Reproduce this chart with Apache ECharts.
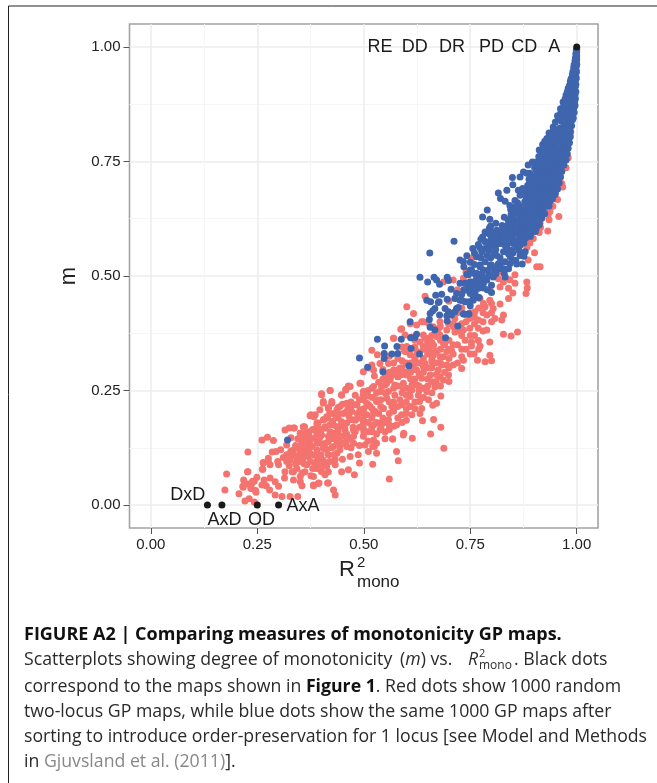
<!DOCTYPE html>
<html><head><meta charset="utf-8">
<style>html,body{margin:0;padding:0;background:#fff}#c{width:657px;height:783px}</style>
<script src="https://cdn.jsdelivr.net/npm/echarts@6/dist/echarts.min.js"></script>
</head><body><div id="c"></div>
<script>
const majorTicks=[0,0.25,0.5,0.75,1];
const minorTicks=[0.125,0.375,0.625,0.875];
const blackDots=[[0.133,0],[0.167,0],[0.25,0],[0.30,0],[1,1]];
const pointLabels=[["RE",0.538,1],["DD",0.62,1],["DR",0.707,1],["PD",0.80,1],["CD",0.877,1],["A",0.947,1],["DxD",0.087,0.022],["AxD",0.173,-0.032],["OD",0.26,-0.032],["AxA",0.3575,-0.003]];
const redLower=[[0.178,0.068],[0.174,0.033],[0.207,0.025],[0.218,0.055],[0.217,0.039],[0.228,0.073],[0.228,0.116],[0.221,0.009],[0.231,0.014],[0.243,0.007],[0.237,0.047],[0.243,0.052],[0.249,0.061],[0.236,0.036],[0.247,0.028],[0.262,0.078],[0.264,0.092],[0.276,0.095],[0.261,0.142],[0.274,0.148],[0.288,0.141],[0.285,0.116],[0.294,0.117],[0.305,0.121],[0.319,0.131],[0.325,0.168],[0.315,0.164],[0.337,0.168],[0.361,0.171],[0.372,0.160],[0.362,0.157],[0.351,0.157],[0.376,0.197],[0.386,0.197],[0.390,0.179],[0.405,0.222],[0.425,0.222],[0.417,0.211],[0.415,0.190],[0.437,0.208],[0.409,0.168],[0.401,0.153],[0.421,0.160],[0.437,0.171],[0.374,0.142],[0.354,0.135],[0.393,0.142],[0.417,0.139],[0.437,0.139],[0.335,0.120],[0.347,0.124],[0.362,0.117],[0.378,0.128],[0.390,0.120],[0.405,0.124],[0.319,0.110],[0.335,0.110],[0.351,0.113],[0.343,0.099],[0.358,0.102],[0.370,0.106],[0.397,0.106],[0.417,0.110],[0.437,0.113],[0.319,0.095],[0.327,0.099],[0.366,0.088],[0.393,0.099],[0.276,0.102],[0.264,0.093],[0.298,0.095],[0.280,0.088],[0.263,0.078],[0.300,0.088],[0.227,0.073],[0.216,0.041],[0.239,0.052],[0.229,0.046],[0.235,0.037],[0.246,0.032],[0.266,0.055],[0.280,0.059],[0.292,0.051],[0.261,0.044],[0.271,0.042],[0.279,0.033],[0.300,0.041],[0.292,0.022],[0.308,0.019],[0.327,0.019],[0.345,0.019],[0.315,0.073],[0.314,0.059],[0.335,0.073],[0.343,0.080],[0.355,0.070],[0.335,0.055],[0.351,0.051],[0.355,0.042],[0.376,0.064],[0.388,0.080],[0.401,0.073],[0.409,0.066],[0.417,0.073],[0.433,0.088],[0.382,0.044],[0.395,0.048],[0.415,0.048],[0.429,0.033],[0.433,0.022],[0.409,0.088],[0.386,0.091],[0.329,0.118],[0.341,0.107],[0.325,0.086],[0.311,0.104],[0.356,0.128],[0.368,0.122],[0.345,0.145],[0.329,0.147],[0.384,0.109],[0.405,0.098],[0.425,0.125],[0.443,0.148],[0.406,0.186],[0.427,0.183],[0.398,0.135],[0.386,0.165]];
const redMiddle=[[0.358,0.171],[0.374,0.195],[0.383,0.193],[0.401,0.243],[0.421,0.250],[0.405,0.226],[0.425,0.226],[0.448,0.240],[0.458,0.253],[0.468,0.259],[0.397,0.208],[0.417,0.213],[0.440,0.213],[0.460,0.222],[0.480,0.219],[0.493,0.266],[0.499,0.248],[0.499,0.230],[0.519,0.255],[0.538,0.248],[0.550,0.262],[0.393,0.179],[0.413,0.193],[0.433,0.197],[0.452,0.200],[0.472,0.204],[0.491,0.208],[0.511,0.219],[0.530,0.226],[0.554,0.233],[0.573,0.240],[0.593,0.255],[0.613,0.262],[0.570,0.255],[0.558,0.248],[0.585,0.230],[0.609,0.237],[0.628,0.240],[0.648,0.248],[0.667,0.258],[0.687,0.273],[0.370,0.153],[0.390,0.157],[0.409,0.171],[0.429,0.175],[0.448,0.182],[0.468,0.186],[0.487,0.190],[0.507,0.197],[0.527,0.204],[0.546,0.211],[0.566,0.215],[0.589,0.219],[0.609,0.215],[0.631,0.226],[0.652,0.230],[0.671,0.222],[0.681,0.238],[0.636,0.211],[0.662,0.218],[0.613,0.197],[0.589,0.197],[0.577,0.175],[0.638,0.184],[0.664,0.187],[0.657,0.155],[0.681,0.170],[0.632,0.200],[0.593,0.153],[0.594,0.157],[0.614,0.146],[0.568,0.144],[0.538,0.164],[0.519,0.171],[0.499,0.168],[0.476,0.164],[0.456,0.164],[0.437,0.153],[0.417,0.150],[0.397,0.148],[0.378,0.146],[0.360,0.153],[0.444,0.131],[0.468,0.146],[0.409,0.124],[0.503,0.131],[0.521,0.128],[0.688,0.124],[0.538,0.179],[0.558,0.186],[0.519,0.190],[0.499,0.186],[0.499,0.291],[0.511,0.299],[0.523,0.295],[0.519,0.338],[0.532,0.328],[0.538,0.309],[0.558,0.309],[0.570,0.364],[0.587,0.384],[0.595,0.339],[0.609,0.328],[0.620,0.313],[0.570,0.295],[0.585,0.299],[0.601,0.284],[0.624,0.295],[0.644,0.309],[0.660,0.317],[0.679,0.324],[0.695,0.335],[0.687,0.353],[0.664,0.349],[0.652,0.339],[0.640,0.371],[0.644,0.364],[0.671,0.368],[0.636,0.400],[0.652,0.397],[0.562,0.277],[0.581,0.280],[0.616,0.273],[0.636,0.277],[0.656,0.284],[0.675,0.295],[0.695,0.306],[0.554,0.266],[0.573,0.262],[0.593,0.266],[0.613,0.251],[0.660,0.269],[0.679,0.280],[0.699,0.284],[0.480,0.240],[0.510,0.238],[0.535,0.268],[0.525,0.282],[0.545,0.296],[0.600,0.310],[0.625,0.335],[0.650,0.300],[0.668,0.335],[0.625,0.262],[0.600,0.240],[0.545,0.190],[0.570,0.205],[0.590,0.180],[0.560,0.165],[0.470,0.225],[0.450,0.220],[0.515,0.215],[0.490,0.170],[0.530,0.180],[0.610,0.290],[0.590,0.315],[0.560,0.325],[0.640,0.255]];
const redFill=[[0.448,0.073],[0.464,0.077],[0.478,0.066],[0.490,0.092],[0.487,0.110],[0.468,0.106],[0.511,0.117],[0.530,0.113],[0.521,0.089],[0.525,0.128],[0.560,0.057],[0.568,0.144],[0.577,0.117],[0.581,0.097],[0.444,0.121],[0.460,0.128],[0.476,0.135],[0.429,0.128],[0.413,0.121],[0.390,0.095],[0.398,0.077],[0.413,0.084],[0.433,0.100],[0.382,0.0625],[0.393,0.047],[0.417,0.048],[0.382,0.042],[0.362,0.073],[0.351,0.0625],[0.332,0.073],[0.327,0.113],[0.343,0.106],[0.358,0.106],[0.374,0.113],[0.401,0.241],[0.421,0.25],[0.448,0.241],[0.458,0.251],[0.464,0.260],[0.491,0.266],[0.519,0.306],[0.570,0.364],[0.429,0.20],[0.444,0.215],[0.464,0.211],[0.484,0.219],[0.507,0.222],[0.530,0.23],[0.554,0.233],[0.499,0.24],[0.523,0.259],[0.542,0.259],[0.562,0.273],[0.499,0.2],[0.523,0.2],[0.546,0.211],[0.570,0.208],[0.476,0.186],[0.499,0.179],[0.523,0.175],[0.546,0.179],[0.570,0.172],[0.444,0.172],[0.460,0.179],[0.405,0.186],[0.390,0.172],[0.429,0.157],[0.452,0.15],[0.476,0.15],[0.499,0.15],[0.523,0.142],[0.390,0.15],[0.374,0.142],[0.351,0.157],[0.335,0.168],[0.60,0.255],[0.62,0.275],[0.58,0.32],[0.60,0.335],[0.64,0.29],[0.66,0.30],[0.62,0.32],[0.65,0.33],[0.68,0.31],[0.70,0.32],[0.72,0.35],[0.74,0.34],[0.70,0.36],[0.72,0.38],[0.74,0.40],[0.68,0.39],[0.66,0.37],[0.72,0.42],[0.76,0.41],[0.78,0.42],[0.78,0.38],[0.80,0.40],[0.76,0.37],[0.63,0.26],[0.61,0.31],[0.59,0.345],[0.65,0.355],[0.67,0.27],[0.70,0.30],[0.72,0.31],[0.70,0.27],[0.54,0.23],[0.58,0.26],[0.60,0.225],[0.52,0.235],[0.56,0.20],[0.62,0.21],[0.64,0.235],[0.66,0.245],[0.68,0.26],[0.545,0.275],[0.58,0.295],[0.535,0.20],[0.51,0.18],[0.485,0.20],[0.465,0.195],[0.44,0.19],[0.455,0.17],[0.475,0.17],[0.51,0.16],[0.53,0.155],[0.55,0.16],[0.46,0.14]];
const redFill2=[[0.34,0.09],[0.35,0.095],[0.36,0.09],[0.375,0.095],[0.38,0.08],[0.40,0.085],[0.42,0.095],[0.43,0.11],[0.45,0.10],[0.40,0.11],[0.41,0.135],[0.43,0.145],[0.45,0.135],[0.47,0.125],[0.49,0.13],[0.51,0.14],[0.53,0.135],[0.55,0.145],[0.39,0.135],[0.37,0.135],[0.35,0.125],[0.34,0.13],[0.36,0.145],[0.38,0.165],[0.40,0.165],[0.42,0.175],[0.44,0.16],[0.46,0.155],[0.48,0.16],[0.50,0.16],[0.52,0.16],[0.54,0.17],[0.56,0.175],[0.58,0.19],[0.60,0.20],[0.62,0.225],[0.60,0.185],[0.42,0.20],[0.44,0.20],[0.46,0.205],[0.48,0.185],[0.50,0.21],[0.52,0.21],[0.54,0.215],[0.56,0.225],[0.58,0.215],[0.60,0.21],[0.47,0.215],[0.49,0.23],[0.51,0.25],[0.53,0.245],[0.55,0.245],[0.57,0.225],[0.59,0.245],[0.61,0.25],[0.63,0.25],[0.65,0.26],[0.67,0.285],[0.55,0.28],[0.57,0.285],[0.59,0.285],[0.61,0.275],[0.63,0.285],[0.65,0.275],[0.67,0.31],[0.69,0.29],[0.71,0.33],[0.69,0.35],[0.71,0.35],[0.73,0.37],[0.71,0.39],[0.75,0.37],[0.73,0.34],[0.75,0.33],[0.77,0.34],[0.63,0.31],[0.66,0.325],[0.68,0.34],[0.70,0.34],[0.60,0.29],[0.58,0.28],[0.57,0.31],[0.59,0.30],[0.61,0.30],[0.56,0.29],[0.64,0.34],[0.62,0.345],[0.62,0.36],[0.66,0.355],[0.68,0.36],[0.78,0.40],[0.80,0.42],[0.77,0.43],[0.75,0.42]];
const redUpper=[[0.601,0.433],[0.617,0.418],[0.644,0.456],[0.589,0.385],[0.640,0.400],[0.687,0.487],[0.710,0.491],[0.734,0.495],[0.753,0.538],[0.901,0.551],[0.886,0.535],[0.906,0.520],[0.914,0.520],[0.855,0.503],[0.843,0.492],[0.883,0.487],[0.884,0.474],[0.881,0.462],[0.840,0.473],[0.850,0.463],[0.840,0.451],[0.820,0.476],[0.796,0.447],[0.820,0.439],[0.773,0.451],[0.785,0.433],[0.804,0.429],[0.828,0.415],[0.808,0.407],[0.824,0.404],[0.789,0.415],[0.769,0.404],[0.749,0.407],[0.730,0.396],[0.710,0.396],[0.789,0.382],[0.828,0.373],[0.846,0.369],[0.861,0.378],[0.769,0.386],[0.749,0.386],[0.734,0.382],[0.714,0.378],[0.695,0.382],[0.679,0.371],[0.675,0.385],[0.738,0.360],[0.753,0.356],[0.769,0.359],[0.753,0.347],[0.773,0.347],[0.796,0.356],[0.759,0.330],[0.767,0.316],[0.796,0.327],[0.785,0.313],[0.800,0.315],[0.730,0.324],[0.734,0.316],[0.706,0.338],[0.687,0.324],[0.671,0.335],[0.656,0.346],[0.640,0.346],[0.601,0.346],[0.632,0.356],[0.612,0.367],[0.597,0.371],[0.597,0.335],[0.620,0.324],[0.640,0.320],[0.660,0.313],[0.683,0.306],[0.710,0.306],[0.730,0.298],[0.656,0.331],[0.617,0.305],[0.640,0.302],[0.663,0.327],[0.742,0.415],[0.761,0.422],[0.781,0.440],[0.800,0.440],[0.679,0.400],[0.699,0.396],[0.714,0.407],[0.609,0.396],[0.624,0.393],[0.663,0.389],[0.796,0.469],[0.816,0.494],[0.855,0.484],[0.828,0.487],[0.980,0.758],[0.975,0.736],[0.965,0.702],[0.967,0.694],[0.955,0.667],[0.944,0.652],[0.937,0.641],[0.958,0.630],[0.933,0.634],[0.935,0.623],[0.932,0.598],[0.915,0.606],[0.912,0.595],[0.898,0.582],[0.890,0.572],[0.883,0.562],[0.986,0.814],[0.914,0.615],[0.820,0.509],[0.759,0.542],[0.740,0.509],[0.720,0.470],[0.700,0.445],[0.730,0.430],[0.760,0.395],[0.700,0.420],[0.655,0.365]];
const blueOutliers=[[0.321,0.142],[0.490,0.321],[0.509,0.301],[0.545,0.291],[0.532,0.362],[0.549,0.347],[0.548,0.331],[0.548,0.320],[0.566,0.330],[0.580,0.331],[0.578,0.346],[0.611,0.342],[0.606,0.304],[0.631,0.330],[0.588,0.362],[0.610,0.365],[0.620,0.366],[0.624,0.373],[0.609,0.400],[0.656,0.388],[0.667,0.382],[0.692,0.365],[0.632,0.497],[0.650,0.487],[0.665,0.497],[0.671,0.491],[0.678,0.482],[0.696,0.497],[0.699,0.490],[0.705,0.471],[0.669,0.458],[0.683,0.460],[0.648,0.447],[0.657,0.444],[0.677,0.444],[0.696,0.449],[0.718,0.462],[0.714,0.451],[0.726,0.447],[0.738,0.444],[0.675,0.442],[0.691,0.429],[0.667,0.429],[0.718,0.429],[0.714,0.422],[0.699,0.422],[0.662,0.424],[0.656,0.418],[0.678,0.415],[0.654,0.405],[0.695,0.413],[0.706,0.415],[0.696,0.402],[0.736,0.417],[0.747,0.417],[0.721,0.391],[0.655,0.550],[0.712,0.576],[0.779,0.629],[0.790,0.644],[0.796,0.624],[0.798,0.609],[0.836,0.687],[0.816,0.681],[0.821,0.669],[0.832,0.663],[0.843,0.654],[0.855,0.665],[0.849,0.715],[0.850,0.699],[0.867,0.716],[0.863,0.687],[0.873,0.691],[0.867,0.676],[0.879,0.681],[0.875,0.727],[0.883,0.724],[0.886,0.742],[0.896,0.749],[0.840,0.622],[0.851,0.629]];
const blueCluster=[[0.753,0.476],[0.754,0.487],[0.765,0.484],[0.746,0.469],[0.757,0.473],[0.769,0.473],[0.750,0.462],[0.761,0.462],[0.781,0.484],[0.789,0.491],[0.777,0.502],[0.781,0.513],[0.793,0.502],[0.804,0.498],[0.812,0.513],[0.828,0.516],[0.773,0.524],[0.797,0.524],[0.820,0.527],[0.843,0.527],[0.859,0.526],[0.872,0.526],[0.840,0.516],[0.750,0.513],[0.765,0.506],[0.757,0.447],[0.769,0.453],[0.800,0.464],[0.832,0.498],[0.726,0.484],[0.742,0.504],[0.726,0.535],[0.734,0.531],[0.742,0.544],[0.756,0.560],[0.769,0.569],[0.785,0.575],[0.765,0.542],[0.777,0.553],[0.793,0.556],[0.808,0.564],[0.820,0.571],[0.836,0.567],[0.855,0.569],[0.871,0.575],[0.879,0.553],[0.867,0.545],[0.876,0.543],[0.857,0.534],[0.844,0.542],[0.832,0.531],[0.816,0.527],[0.800,0.524],[0.785,0.531],[0.773,0.520],[0.761,0.505],[0.753,0.513],[0.746,0.503],[0.777,0.505],[0.793,0.513],[0.808,0.513],[0.824,0.516],[0.781,0.495],[0.796,0.502],[0.765,0.495],[0.749,0.487],[0.738,0.484],[0.769,0.476],[0.742,0.469],[0.761,0.465],[0.781,0.474],[0.771,0.453],[0.757,0.451],[0.746,0.444],[0.730,0.447],[0.722,0.431],[0.734,0.417],[0.746,0.417],[0.779,0.585],[0.785,0.596],[0.793,0.593],[0.812,0.600],[0.820,0.589],[0.804,0.582],[0.789,0.574],[0.816,0.571],[0.836,0.585],[0.851,0.571],[0.832,0.567],[0.867,0.567],[0.812,0.545],[0.828,0.553],[0.846,0.556],[0.798,0.540],[0.735,0.52],[0.75,0.53],[0.76,0.55],[0.775,0.54],[0.79,0.545],[0.805,0.55],[0.82,0.54],[0.835,0.56],[0.85,0.55],[0.865,0.555],[0.785,0.56],[0.80,0.57],[0.81,0.505],[0.80,0.48],[0.77,0.49],[0.76,0.525],[0.85,0.535],[0.83,0.505],[0.815,0.52],[0.79,0.47],[0.745,0.48],[0.735,0.47],[0.73,0.46],[0.75,0.435],[0.905,0.605],[0.912,0.612],[0.918,0.626],[0.925,0.636],[0.772,0.562],[0.795,0.565],[0.81,0.558],[0.825,0.578],[0.84,0.548],[0.86,0.562],[0.775,0.58],[0.795,0.605],[0.81,0.615],[0.825,0.61],[0.83,0.628],[0.845,0.645],[0.858,0.652]];
const blueBand=[[0.802,0.571],[0.815,0.574],[0.831,0.569],[0.846,0.573],[0.861,0.570],[0.876,0.572],[0.799,0.585],[0.818,0.583],[0.834,0.586],[0.849,0.582],[0.866,0.585],[0.880,0.583],[0.891,0.586],[0.803,0.596],[0.821,0.598],[0.836,0.594],[0.851,0.597],[0.864,0.595],[0.881,0.598],[0.893,0.594],[0.903,0.597],[0.836,0.609],[0.851,0.611],[0.866,0.607],[0.880,0.610],[0.895,0.608],[0.908,0.611],[0.839,0.622],[0.855,0.620],[0.870,0.623],[0.884,0.621],[0.899,0.624],[0.914,0.628],[0.846,0.634],[0.862,0.637],[0.878,0.633],[0.893,0.636],[0.908,0.634],[0.922,0.640],[0.856,0.647],[0.871,0.645],[0.885,0.648],[0.900,0.646],[0.915,0.649],[0.928,0.652],[0.861,0.660],[0.878,0.662],[0.893,0.658],[0.908,0.661],[0.923,0.659],[0.938,0.664],[0.881,0.673],[0.895,0.671],[0.910,0.675],[0.925,0.672],[0.940,0.674],[0.949,0.678],[0.886,0.686],[0.901,0.688],[0.915,0.684],[0.930,0.687],[0.945,0.685],[0.955,0.690],[0.885,0.698],[0.900,0.700],[0.917,0.696],[0.932,0.699],[0.947,0.697],[0.959,0.703],[0.888,0.711],[0.905,0.709],[0.920,0.712],[0.935,0.710],[0.950,0.713],[0.962,0.716],[0.890,0.724],[0.908,0.726],[0.923,0.722],[0.938,0.725],[0.953,0.723],[0.965,0.728],[0.901,0.737],[0.915,0.735],[0.930,0.739],[0.945,0.736],[0.960,0.738],[0.970,0.742],[0.905,0.749],[0.920,0.751],[0.935,0.747],[0.950,0.750],[0.965,0.748],[0.975,0.753],[0.911,0.761],[0.925,0.759],[0.940,0.763],[0.955,0.760],[0.970,0.762],[0.978,0.766],[0.912,0.775],[0.930,0.773],[0.945,0.777],[0.960,0.774],[0.972,0.776],[0.980,0.779],[0.920,0.787],[0.935,0.789],[0.950,0.785],[0.965,0.788],[0.976,0.786],[0.983,0.791],[0.930,0.800],[0.945,0.798],[0.960,0.802],[0.970,0.799],[0.980,0.801],[0.985,0.804],[0.935,0.812],[0.950,0.814],[0.965,0.810],[0.975,0.813],[0.985,0.816],[0.945,0.825],[0.960,0.823],[0.970,0.827],[0.980,0.824],[0.988,0.828],[0.950,0.836],[0.965,0.838],[0.975,0.834],[0.985,0.837],[0.990,0.841],[0.955,0.850],[0.970,0.848],[0.980,0.852],[0.990,0.850],[0.962,0.865],[0.975,0.863],[0.985,0.867],[0.993,0.866],[0.968,0.880],[0.980,0.878],[0.990,0.882],[0.995,0.880],[0.975,0.895],[0.985,0.893],[0.993,0.897],[0.996,0.895],[0.980,0.910],[0.990,0.908],[0.996,0.912],[0.985,0.925],[0.993,0.923],[0.997,0.927],[0.990,0.940],[0.996,0.938],[0.998,0.942],[0.993,0.955],[0.997,0.953],[0.999,0.957],[0.996,0.970],[0.998,0.968],[1,0.972],[0.998,0.985],[0.999,0.983],[1,0.990],[0.999,0.932],[0.998,0.918],[0.999,0.948],[1,0.962],[0.808,0.578],[0.824,0.591],[0.842,0.603],[0.858,0.616],[0.874,0.629],[0.887,0.642],[0.901,0.654],[0.916,0.667],[0.901,0.680],[0.922,0.693],[0.938,0.705],[0.912,0.718],[0.930,0.731],[0.952,0.743],[0.928,0.755],[0.948,0.768],[0.965,0.780],[0.942,0.794],[0.958,0.806],[0.974,0.819],[0.962,0.843],[0.976,0.858],[0.974,0.872],[0.986,0.887]];
const blueFill=[[0.81,0.578],[0.84,0.578],[0.855,0.577],[0.87,0.579],[0.81,0.59],[0.83,0.591],[0.845,0.59],[0.86,0.592],[0.875,0.59],[0.887,0.591],[0.83,0.603],[0.845,0.604],[0.858,0.602],[0.873,0.603],[0.888,0.604],[0.90,0.602],[0.845,0.616],[0.86,0.615],[0.873,0.617],[0.888,0.615],[0.903,0.617],[0.912,0.618],[0.85,0.628],[0.867,0.629],[0.88,0.627],[0.895,0.629],[0.91,0.628],[0.86,0.641],[0.875,0.64],[0.89,0.642],[0.905,0.64],[0.918,0.642],[0.865,0.654],[0.88,0.653],[0.895,0.655],[0.91,0.654],[0.925,0.655],[0.935,0.653],[0.885,0.667],[0.90,0.666],[0.915,0.668],[0.93,0.666],[0.943,0.668],[0.892,0.68],[0.907,0.679],[0.922,0.681],[0.937,0.68],[0.95,0.681],[0.892,0.692],[0.908,0.693],[0.925,0.691],[0.94,0.693],[0.952,0.692],[0.895,0.705],[0.913,0.704],[0.928,0.706],[0.943,0.705],[0.955,0.706],[0.898,0.718],[0.915,0.717],[0.93,0.719],[0.945,0.718],[0.958,0.719],[0.905,0.731],[0.92,0.73],[0.935,0.732],[0.95,0.731],[0.963,0.732],[0.91,0.743],[0.925,0.742],[0.94,0.744],[0.955,0.743],[0.967,0.744],[0.915,0.755],[0.93,0.754],[0.945,0.756],[0.96,0.755],[0.972,0.756],[0.92,0.768],[0.935,0.767],[0.95,0.769],[0.965,0.768],[0.975,0.769],[0.925,0.78],[0.94,0.781],[0.955,0.779],[0.97,0.781],[0.978,0.78],[0.925,0.794],[0.94,0.793],[0.955,0.795],[0.968,0.794],[0.98,0.795],[0.94,0.806],[0.955,0.807],[0.968,0.805],[0.978,0.807],[0.945,0.818],[0.958,0.819],[0.97,0.817],[0.982,0.819]];
const blueTail=[[0.958,0.843],[0.972,0.842],[0.984,0.845],[0.992,0.845],[0.963,0.857],[0.978,0.856],[0.988,0.858],[0.994,0.857],[0.97,0.872],[0.982,0.873],[0.992,0.874],[0.996,0.872],[0.973,0.887],[0.984,0.886],[0.993,0.888],[0.997,0.887],[0.978,0.902],[0.988,0.901],[0.995,0.903],[0.998,0.902],[0.983,0.916],[0.992,0.917],[0.997,0.915],[0.987,0.931],[0.994,0.932],[0.998,0.93],[0.991,0.946],[0.996,0.947],[0.999,0.945],[0.994,0.961],[0.998,0.96],[0.999,0.963],[0.997,0.976],[0.999,0.977],[1,0.98],[0.999,0.992],[1,0.995]];
const captionFont='"Open Sans",sans-serif';
const captionSize=17.7;
const textColor='#2a2a2a';
const capStyles={b:{font:'bold '+captionSize+'px '+captionFont,fill:'#111'},i:{font:'italic '+captionSize+'px '+captionFont,fill:textColor},g:{font:captionSize+'px '+captionFont,fill:'#888'}};
function cap(x,y,text,extra){return {type:'text',x:x,y:y,z:10,style:Object.assign({text:text,font:captionSize+'px '+captionFont,fill:textColor,textVerticalAlign:'middle',rich:capStyles},extra||{})};}
const option={
  animation:false,
  backgroundColor:'#fff',
  grid:{left:129.5,right:59,top:24,bottom:255,show:true,borderColor:'#a3a3a3',borderWidth:1.6,backgroundColor:'#fff'},
  xAxis:[{type:'value',min:-0.05,max:1.05,axisLine:{show:false,onZero:false},
      axisTick:{show:true,length:6,lineStyle:{color:'#555',width:1},customValues:majorTicks},
      axisLabel:{color:'#222',fontSize:15,fontFamily:'"Liberation Sans"',margin:9,customValues:majorTicks,formatter:v=>v.toFixed(2)},
      splitLine:{show:true,lineStyle:{color:'#ececec',width:1.5}}},
    {type:'value',min:-0.05,max:1.05,position:'bottom',axisLine:{show:false,onZero:false},
      axisTick:{show:false,customValues:minorTicks},axisLabel:{show:false},
      splitLine:{show:true,lineStyle:{color:'#f6f6f6',width:1}}}],
  yAxis:[{type:'value',min:-0.05,max:1.05,axisLine:{show:false,onZero:false},name:'m',nameLocation:'middle',nameGap:43,nameRotate:90,
      nameTextStyle:{fontSize:22,color:'#222',fontFamily:'"Liberation Sans"'},
      axisTick:{show:true,length:6,lineStyle:{color:'#555',width:1},customValues:majorTicks},
      axisLabel:{color:'#222',fontSize:15,fontFamily:'"Liberation Sans"',margin:9,customValues:majorTicks,formatter:v=>v.toFixed(2)},
      splitLine:{show:true,lineStyle:{color:'#ececec',width:1.5}}},
    {type:'value',min:-0.05,max:1.05,position:'left',axisLine:{show:false,onZero:false},
      axisTick:{show:false,customValues:minorTicks},axisLabel:{show:false},
      splitLine:{show:true,lineStyle:{color:'#f6f6f6',width:1}}}],
  series:[
    {type:'scatter',name:'random',symbolSize:7,itemStyle:{color:'#f4736f',opacity:1},data:redLower.concat(redMiddle,redFill,redFill2,redUpper),z:3},
    {type:'scatter',name:'sorted',symbolSize:7,itemStyle:{color:'#3f65ae',opacity:1},data:blueOutliers.concat(blueCluster,blueBand,blueFill,blueTail),z:4},
    {type:'scatter',name:'maps',symbolSize:7,itemStyle:{color:'#1a1a1a',opacity:1},data:blackDots,z:5},
    {type:'scatter',name:'labels',symbolSize:1,silent:true,z:6,itemStyle:{opacity:0},
      data:pointLabels.map(p=>({value:[p[1],p[2]],name:p[0]})),
      labelLayout:{hideOverlap:false},
      label:{show:true,position:'inside',formatter:'{b}',fontSize:18,color:'#1a1a1a',opacity:1,textBorderWidth:0,fontFamily:'"Liberation Sans"'}}
  ],
  graphic:[
    {type:'polyline',z:10,shape:{points:[[8.5,783],[8.5,6],[657,6]]},style:{stroke:'#222',lineWidth:1,fill:null}},
    {type:'text',x:339,y:570,z:10,style:{text:'R',font:'22px "Liberation Sans"',fill:'#222',textVerticalAlign:'middle'}},
    {type:'text',x:357,y:563,z:10,style:{text:'2',font:'15px "Liberation Sans"',fill:'#222',textVerticalAlign:'middle'}},
    {type:'text',x:357,y:582,z:10,style:{text:'mono',font:'17px "Liberation Sans"',fill:'#222',textVerticalAlign:'middle'}},
    cap(24,635,'FIGURE A2 | Comparing measures of monotonicity GP maps.',{font:'bold 18px '+captionFont,fill:'#111'}),
    cap(24,660,'Scatterplots showing degree of monotonicity'),
    cap(400,660,'({i|m}) vs.'),
    cap(468,660,'R',{font:'italic '+captionSize+'px '+captionFont}),
    cap(479,654,'2',{font:'11px '+captionFont}),
    cap(479,666,'mono',{font:'12px '+captionFont}),
    cap(514,660,'. Black dots'),
    cap(24,687,'correspond to the maps shown in {b|Figure 1}. Red dots show 1000 random'),
    cap(24,712,'two-locus GP maps, while blue dots show the same 1000 GP maps after'),
    cap(24,737,'sorting to introduce order-preservation for 1 locus [see Model and Methods'),
    cap(24,762,'in {g|Gjuvsland et al. (2011)}].')
  ]
};
const chart=echarts.init(document.getElementById('c'),null,{renderer:'canvas'});
chart.setOption(option);
</script></body></html>
